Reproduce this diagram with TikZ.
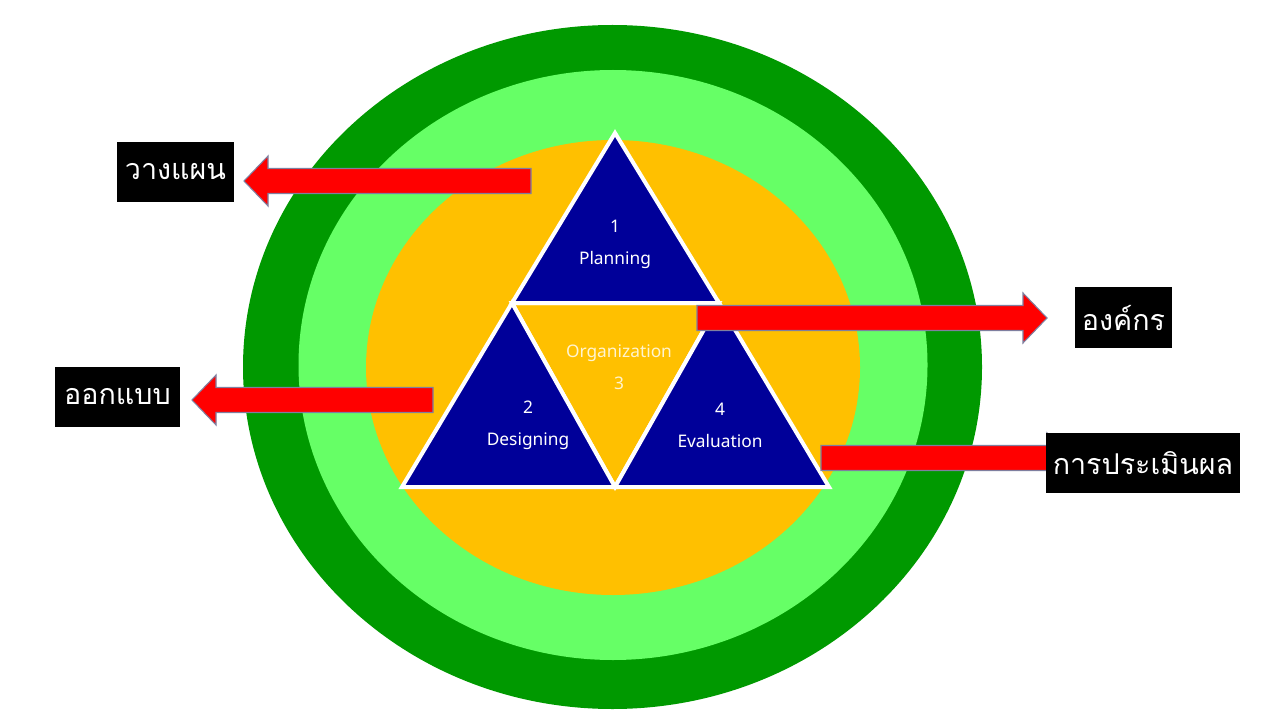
\documentclass[tikz,border=0pt]{standalone}
\usepackage{fontspec}
\setmainfont[Script=Thai]{Loma}
\newfontfamily\stepfont{Noto Sans}
\usetikzlibrary{calc}

\definecolor{ring_dark}{HTML}{009900}
\definecolor{ring_light}{HTML}{66FF66}
\definecolor{ring_core}{HTML}{FFC000}
\definecolor{tri_navy}{HTML}{000099}
\definecolor{arrow_red}{HTML}{FF0000}
\definecolor{arrow_edge}{HTML}{7F7F9F}
\definecolor{org_cream}{HTML}{FFF4D0}

% block arrow: tail, tip, direction (1 = right, -1 = left)
\newcommand{\blockarrow}[3]{%
  \draw[block_arrow] ($(#1)+(0,-12.5)$) -- ($(#2)+({-24*(#3)},-12.5)$)
    -- ($(#2)+({-24*(#3)},-25)$) -- (#2) -- ($(#2)+({-24*(#3)},25)$)
    -- ($(#2)+({-24*(#3)},12.5)$) -- ($(#1)+(0,12.5)$) -- cycle;
}

\begin{document}
\begin{tikzpicture}[x=0.75pt,y=-0.75pt]
        % Define styles
        \tikzset{
            tri_step/.style={fill=tri_navy, draw=white, line width=3pt, line join=miter},
            tri_core/.style={fill=ring_core, draw=white, line width=3pt, line join=miter},
            tri_text/.style={text=white, align=center, font=\stepfont\fontsize{13}{24}\selectfont},
            block_arrow/.style={fill=arrow_red, draw=arrow_edge, line width=0.8pt, line join=miter},
            thai_label/.style={fill=black, text=white, inner sep=0pt, minimum height=45.5pt,
                font=\fontsize{21.5}{26}\selectfont}
        }

        % Background and rings
        \fill[white] (0,0) rectangle (1280,720);
        \useasboundingbox (0,0) rectangle (1280,720);
        \fill[ring_dark] (612.5,367) ellipse [x radius=369.5, y radius=342];
        \fill[ring_light] (613,365) ellipse [x radius=314.5, y radius=295];
        \fill[ring_core] (613,367.5) ellipse [x radius=247, y radius=227.5];

        % Triangle corners
        \coordinate (top_apex) at (615,133);
        \coordinate (mid_left) at (512,303);
        \coordinate (mid_right) at (719,303);
        \coordinate (base_left) at (402,487);
        \coordinate (base_mid) at (615,487);
        \coordinate (base_right) at (829,487);

        % Triangles
        \draw[tri_core] (mid_left) -- (mid_right) -- (base_mid) -- cycle;
        \draw[tri_step] (top_apex) -- (mid_right) -- (mid_left) -- cycle;
        \draw[tri_step] (mid_left) -- (base_mid) -- (base_left) -- cycle;
        \draw[tri_step] (mid_right) -- (base_right) -- (base_mid) -- cycle;

        % Triangle texts
        \node[tri_text] (plan_text) at (615,244) {1\\Planning};
        \node[tri_text, text=org_cream] (org_text) at (619,367) {Organization\\3};
        \node[tri_text] (design_text) at (528,425) {2\\Designing};
        \node[tri_text] (eval_text) at (720,425) {4\\Evaluation};

        % Arrows
        \coordinate (plan_tail) at (531,181);
        \coordinate (plan_tip) at (244,181);
        \coordinate (design_tail) at (433,400);
        \coordinate (design_tip) at (192,400);
        \coordinate (org_tail) at (697,318);
        \coordinate (org_tip) at (1047,318);
        \coordinate (eval_tail) at (821,458);
        \coordinate (eval_tip) at (1071,458);
        \blockarrow{plan_tail}{plan_tip}{-1}
        \blockarrow{design_tail}{design_tip}{-1}
        \blockarrow{org_tail}{org_tip}{1}
        \blockarrow{eval_tail}{eval_tip}{1}

        % Labels
        \node[thai_label, minimum width=87.75pt] (plan_label) at (175.5,172) {วางแผน};
        \node[thai_label, minimum width=93.75pt] (design_label) at (117.5,397) {ออกแบบ};
        \node[thai_label, minimum width=72.75pt] (org_label) at (1123.5,317.5) {องค์กร};
        \node[thai_label, minimum width=145.5pt] (eval_label) at (1143,463) {การประเมินผล};
    \end{tikzpicture}
\end{document}
